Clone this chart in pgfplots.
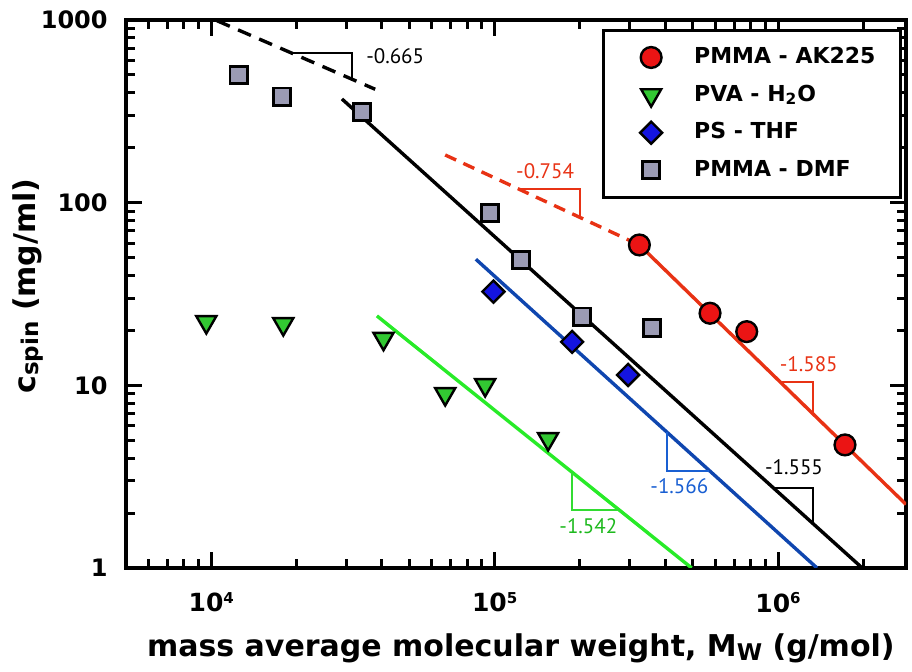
\documentclass[border=0pt]{standalone}
\usepackage{fontspec}
\setmainfont{DejaVu Sans}
\newfontfamily\annfont{PT Sans}
\usepackage{pgfplots}
\pgfplotsset{compat=1.18}
\definecolor{redline}{RGB}{232,50,20}
\definecolor{redfill}{RGB}{235,20,20}
\definecolor{greenline}{RGB}{40,235,40}
\definecolor{greentext}{RGB}{30,185,30}
\definecolor{greentri}{RGB}{50,220,50}
\definecolor{greenfill}{RGB}{50,200,50}
\definecolor{blueline}{RGB}{15,70,175}
\definecolor{bluetext}{RGB}{25,95,210}
\definecolor{bluefill}{RGB}{20,20,225}
\definecolor{grayfill}{RGB}{155,155,180}
\newcommand{\sq}[1]{\raisebox{4.3pt}{\fontsize{7.5}{7.5}\selectfont #1}}
\begin{document}
\begin{tikzpicture}
\useasboundingbox (-63pt,-52pt) rectangle (393pt,284pt);
\begin{axis}[
  xmode=log, ymode=log,
  scale only axis, width=390pt, height=274pt,
  xmin=5000, xmax=2.83e6, ymin=1, ymax=1000,
  axis line style={line width=2pt},
  tick style={line width=1.5pt, black},
  major tick length=8pt, minor tick length=4.5pt,
  tick align=inside,
  xtick={1e4,1e5,1e6},
  xticklabels={10\sq{4},10\sq{5},10\sq{6}},
  minor xtick={6000,7000,8000,9000,20000,30000,40000,50000,60000,70000,80000,90000,200000,300000,400000,500000,600000,700000,800000,900000,2000000},
  ytick={1,10,100,1000},
  yticklabels={1,10,100,1000},
  minor ytick={2,3,4,5,6,7,8,9,20,30,40,50,60,70,80,90,200,300,400,500,600,700,800,900},
  yticklabel style={anchor=east, inner sep=0pt, xshift=-9pt, font=\fontsize{12}{14}\selectfont\bfseries},
  xticklabel style={anchor=north, inner sep=0pt, yshift=-12pt, font=\fontsize{12.5}{14}\selectfont\bfseries},
  xlabel={mass average molecular weight, M\raisebox{-1.7pt}{\fontsize{11.5}{12}\selectfont W} (g/mol)},
  ylabel={c\raisebox{-1.7pt}{\fontsize{11.5}{12}\selectfont spin} (mg/ml)},
  every axis x label/.style={at={(rel axis cs:0.5062,-0.1469)}, anchor=center, font=\fontsize{15}{17}\selectfont\bfseries},
  every axis y label/.style={at={(rel axis cs:-0.1256,0.5146)}, anchor=center, rotate=90, font=\fontsize{15}{17}\selectfont\bfseries},
  legend style={at={(rel axis cs:0.9949,0.9836)}, anchor=north east, draw=black, line width=1.5pt,
    inner xsep=10.5pt, inner ysep=6pt, font=\fontsize{11}{13}\selectfont\bfseries,
    nodes={inner sep=2pt, text height=8.5pt, text depth=2.5pt}, row sep=3.8pt,
    /tikz/every odd column/.append style={column sep=12pt}},
  legend cell align=left,
  legend image code/.code={\path[fill=none,draw=none] (0pt,-5pt) rectangle (21pt,5pt); \draw[#1] plot coordinates {(13.5pt,0pt)};},
]
% markers
\addplot[only marks, mark=*, mark size=5.2pt, fill=redfill, draw=black, line width=1.2pt]
  coordinates {(324200,58.68) (575600,24.81) (775600,19.68) (1723300,4.718)};
\addlegendentry{PMMA - AK225}
\addplot[only marks, mark=triangle*, mark size=5.8pt, mark options={rotate=180}, fill=greenfill, draw=black, line width=1.2pt]
  coordinates {(9603,22.23) (17950,21.68) (40530,18.01) (66910,8.97) (92570,10.05) (154400,5.09)};
\addlegendentry{PVA - H\textsubscript{2}O}
\addplot[only marks, mark=square*, mark size=3.9pt, mark options={rotate=45}, fill=bluefill, draw=black, line width=1.2pt]
  coordinates {(99030,32.58) (187700,17.29) (295800,11.40)};
\addlegendentry{PS - THF}
\addplot[only marks, mark=square*, mark size=4.3pt, fill=grayfill, draw=black, line width=1.4pt]
  coordinates {(12480,500) (17760,380.4) (34010,312.5) (96400,87.5) (123700,48.57) (203000,23.77) (358500,20.53)};
\addlegendentry{PMMA - DMF}
% fit lines
\addplot[forget plot, redline, line width=1.7pt] coordinates {(324200,58.68) (2830000,2.229)};
\addplot[forget plot, redline, line width=1.7pt, dash pattern=on 6pt off 4pt] coordinates {(66910,182.4) (324200,58.68)};
\addplot[forget plot, redline, line width=1pt] coordinates {(121300,119.2) (200300,119.2) (200300,83.33)};
\addplot[forget plot, redline, line width=1pt] coordinates {(1016500,10.45) (1331700,10.45) (1331700,6.947)};
\addplot[forget plot, black, line width=1.7pt] coordinates {(28907,369.6) (1983000,1)};
\addplot[forget plot, black, line width=1.7pt, dash pattern=on 7pt off 4.5pt] coordinates {(10470,991) (37880,417.6)};
\addplot[forget plot, black, line width=1pt] coordinates {(19260,658.1) (31360,658.1) (31360,474.2)};
\addplot[forget plot, black, line width=1pt] coordinates {(962900,2.748) (1326000,2.748) (1326000,1.7555)};
\addplot[forget plot, blueline, line width=1.7pt] coordinates {(85850,49.0) (1373100,1)};
\addplot[forget plot, bluetext, line width=1pt] coordinates {(404900,5.551) (404900,3.413) (572600,3.413)};
\addplot[forget plot, greenline, line width=1.7pt] coordinates {(38420,23.99) (495700,1)};
\addplot[forget plot, greentri, line width=1pt] coordinates {(188100,3.333) (188100,2.080) (274900,2.080)};
% labels
\node[anchor=center, font=\annfont\fontsize{10.5}{12}\selectfont, text=black] at (axis cs:44570,633.8) {-0.665};
\node[anchor=center, font=\annfont\fontsize{10.5}{12}\selectfont, text=redline] at (axis cs:150700,149.5) {-0.754};
\node[anchor=center, font=\annfont\fontsize{10.5}{12}\selectfont, text=redline] at (axis cs:1284000,12.98) {-1.585};
\node[anchor=center, font=\annfont\fontsize{10.5}{12}\selectfont, text=black] at (axis cs:1138800,3.553) {-1.555};
\node[anchor=center, font=\annfont\fontsize{10.5}{12}\selectfont, text=bluetext] at (axis cs:448700,2.821) {-1.566};
\node[anchor=center, font=\annfont\fontsize{10.5}{12}\selectfont, text=greentext] at (axis cs:214200,1.704) {-1.542};
\end{axis}
\end{tikzpicture}
\end{document}
